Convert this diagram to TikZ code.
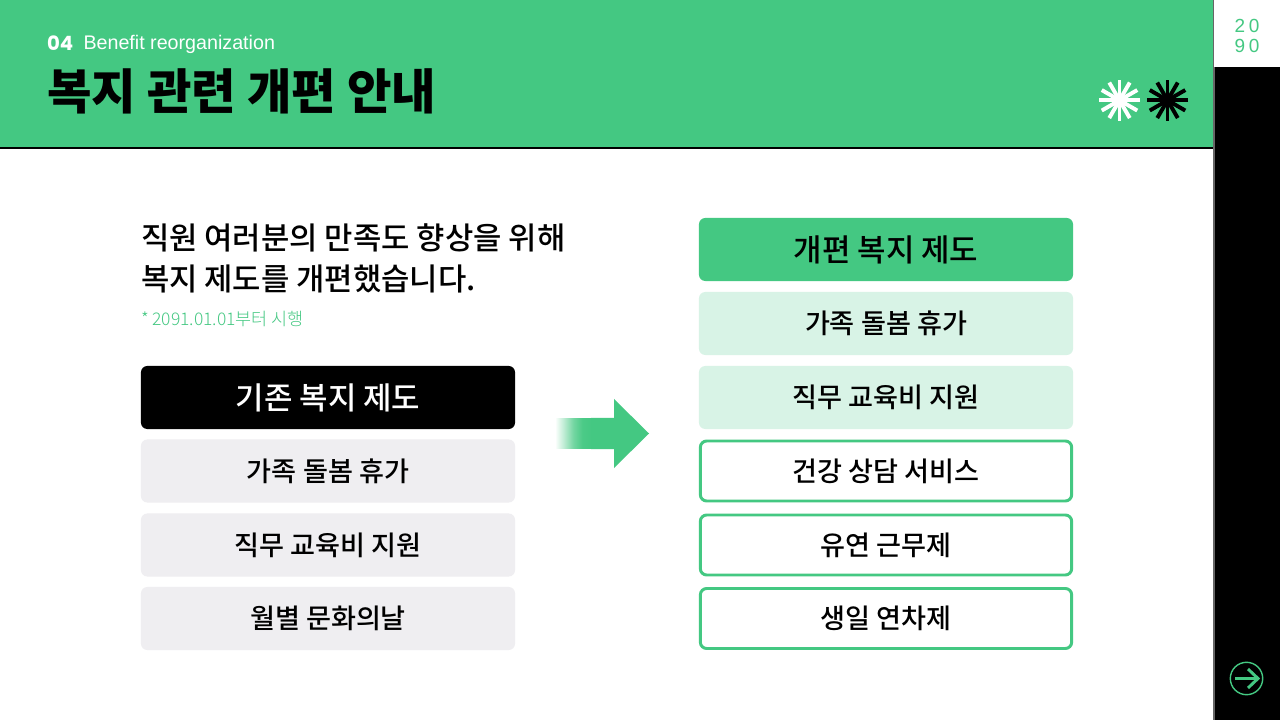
\documentclass[tikz,border=0pt]{standalone}
\usepackage{fontspec}
\setmainfont{Noto Sans CJK KR}[BoldFont={Noto Sans CJK KR Medium}]
\newfontfamily\blackfont{Noto Sans CJK KR Black}
\newfontfamily\lightfont{Noto Sans CJK KR Light}
\newfontfamily\latinfont{Liberation Sans}
\newfontfamily\numfont{Poppins}
\usepackage{tikz}
\usetikzlibrary{calc}
\definecolor{benefitgreen}{HTML}{44C882}
\definecolor{lightgreen}{HTML}{D8F3E6}
\definecolor{lightgray}{HTML}{EFEEF1}
\pgfdeclarehorizontalshading{arrowfade}{100bp}{color(0bp)=(white); color(25bp)=(white); color(37bp)=(benefitgreen!35); color(50bp)=(benefitgreen!75); color(62bp)=(benefitgreen!96); color(75bp)=(benefitgreen); color(100bp)=(benefitgreen)}
\tikzstyle{box}       = [rounded corners=4.5pt, minimum width=9.35cm, minimum height=1.575cm, inner sep=0pt, outer sep=0pt, text=black, font=\fontsize{19.3}{23}\selectfont\bfseries]
\tikzstyle{headbox}   = [box, font=\fontsize{22}{26}\selectfont\bfseries]
\tikzstyle{oldbox}    = [box, fill=lightgray]
\tikzstyle{keptbox}   = [box, fill=lightgreen]
\tikzstyle{newbox}    = [box, draw=benefitgreen, line width=2.1pt, fill=white, minimum width=9.28cm, minimum height=1.5cm]
\tikzstyle{plain}     = [anchor=west, inner sep=0pt, outer sep=0pt]
\begin{document}
\begin{tikzpicture}[x=0.025cm,y=-0.025cm]
        \useasboundingbox (0,0) rectangle (1280,720);
        \fill[white] (0,0) rectangle (1280,720);

        % header and side bar
        \fill[benefitgreen] (0,0) rectangle (1213,147);
        \fill[black] (0,147) rectangle (1213,149);
        \fill[black] (1214,0) rectangle (1280,720);
        \fill[black!60] (1212.5,0) rectangle (1214.5,720);
        \fill[white] (1214,0) rectangle (1280,67);

        \node[plain, text=white, font=\numfont\fontsize{14}{17}\selectfont\bfseries] (num) at (47,43) {04};
        \node[plain, text=white, font=\latinfont\fontsize{14}{17}\selectfont] (sub) at (83.5,44) {Benefit reorganization};
        \node[plain, font=\blackfont\fontsize{34.4}{40}\selectfont] (title) at (47,91) {복지 관련 개편 안내};

        \node[text=benefitgreen, inner sep=0pt, font=\latinfont\fontsize{13.5}{16}\selectfont\addfontfeature{LetterSpace=20}] (yeara) at (1247,26) {20};
        \node[text=benefitgreen, inner sep=0pt, font=\latinfont\fontsize{13.5}{16}\selectfont\addfontfeature{LetterSpace=20}] (yearb) at (1247,46) {90};

        \foreach \a in {0,30,...,150} {
            \draw[white, line width=2.8pt] ($(1119.5,100.3)+(\a:20.5)$) -- ($(1119.5,100.3)+(\a+180:20.5)$);
            \draw[black, line width=2.8pt] ($(1167.5,100.3)+(\a:20.5)$) -- ($(1167.5,100.3)+(\a+180:20.5)$);
        }

        % left column
        \node[plain, font=\fontsize{21.9}{26}\selectfont\bfseries] (lineone) at (141,238) {직원 여러분의 만족도 향상을 위해};
        \node[plain, font=\fontsize{21.9}{26}\selectfont\bfseries] (linetwo) at (141,279) {복지 제도를 개편했습니다.};
        \node[plain, text=benefitgreen, font=\lightfont\fontsize{12.4}{16}\selectfont] (note) at (141,319) {* 2091.01.01부터 시행};

        \node[headbox, fill=black, text=white] (oldhead) at (328,397.5) {기존 복지 제도};
        \node[oldbox] (olda) at (328,471) {가족 돌봄 휴가};
        \node[oldbox] (oldb) at (328,545) {직무 교육비 지원};
        \node[oldbox] (oldc) at (328,618.5) {월별 문화의날};

        % arrow
        \shade[shading=arrowfade] (555,418.6) rectangle (592,448.4);
        \fill[benefitgreen] (591,418) -- (614,418) -- (614,399) -- (649,433.5) -- (614,468) -- (614,449) -- (591,449) -- cycle;

        % right column
        \node[headbox, fill=benefitgreen] (newhead) at (886,249.5) {개편 복지 제도};
        \node[keptbox] (newa) at (886,323.5) {가족 돌봄 휴가};
        \node[keptbox] (newb) at (886,397.5) {직무 교육비 지원};
        \node[newbox] (newc) at (886,471) {건강 상담 서비스};
        \node[newbox] (newd) at (886,545) {유연 근무제};
        \node[newbox] (newe) at (886,618.5) {생일 연차제};

        % next button
        \node[circle, draw=benefitgreen, line width=1pt, minimum size=0.81cm, inner sep=0pt] (next) at (1246.5,678.5) {};
        \coordinate (nexttail) at (1235,678.5);
        \coordinate (nexthead) at (1258,678.5);
        \coordinate (nextup) at (1248,669);
        \coordinate (nextdown) at (1248,688);
        \draw[benefitgreen, line width=2.1pt] (nexttail) -- (nexthead);
        \draw[benefitgreen, line width=2.1pt] (nextup) -- (nexthead) -- (nextdown);
    \end{tikzpicture}
\end{document}
